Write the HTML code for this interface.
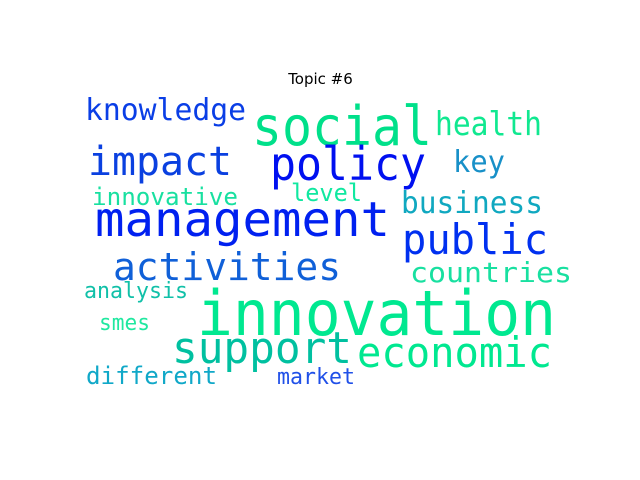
<!DOCTYPE html>
<html><head><meta charset="utf-8"><style>
html,body{margin:0;padding:0;background:#fff;width:640px;height:480px;overflow:hidden}
svg text{font-family:"DejaVu Sans Mono","Liberation Mono",monospace}
</style></head><body>
<svg width="640" height="480">
<text x="320.5" y="84" text-anchor="middle" font-size="15" fill="#000" style="font-family:'DejaVu Sans','Liberation Sans',sans-serif">Topic #6</text>
<g id="words"></g>
</svg>
<script>
const words=["knowledge","social","health","impact","policy","key","innovative","level","business","management","public","activities","countries","analysis","innovation","smes","support","economic","different","market"];
const sizes=[30,54,33,40,46,30,24,24,30,48,42,38,28,22,62,22,44,42,24,22];
const colors=["#0a3ee6","#00e08a","#10e890","#0a40e0","#0010f0","#1890c8","#18e0a0","#10e8a0","#10a8c0","#0020f0","#0030f0","#1060d8","#18e0a0","#10c0a8","#00e890","#20e8a0","#00c0a0","#00e890","#10a8c8","#2050e8"];
const layout=[[85,246,120],[252,432,145],[435,542,135],[88,232,175],[270,426,180],[453,505,172],[92,238,205],[291,362,201],[401,543,213],[95,390,236],[402,548,254],[113,341,280],[410,572,282],[84,188,298],[197,556,335],[99,150,330],[172,352,363],[357,552,367],[86,217,384],[277,355,384]];
const g=document.getElementById('words');
words.forEach((w,i)=>{
  const t=document.createElementNS('http://www.w3.org/2000/svg','text');
  t.setAttribute('x',layout[i][0]);
  t.setAttribute('y',layout[i][2]);
  t.setAttribute('font-size',sizes[i]);
  t.setAttribute('fill',colors[i]);
  t.setAttribute('textLength',layout[i][1]-layout[i][0]);
  t.setAttribute('lengthAdjust','spacingAndGlyphs');
  
  
  t.textContent=w;
  g.appendChild(t);
});
</script>
</body></html>
